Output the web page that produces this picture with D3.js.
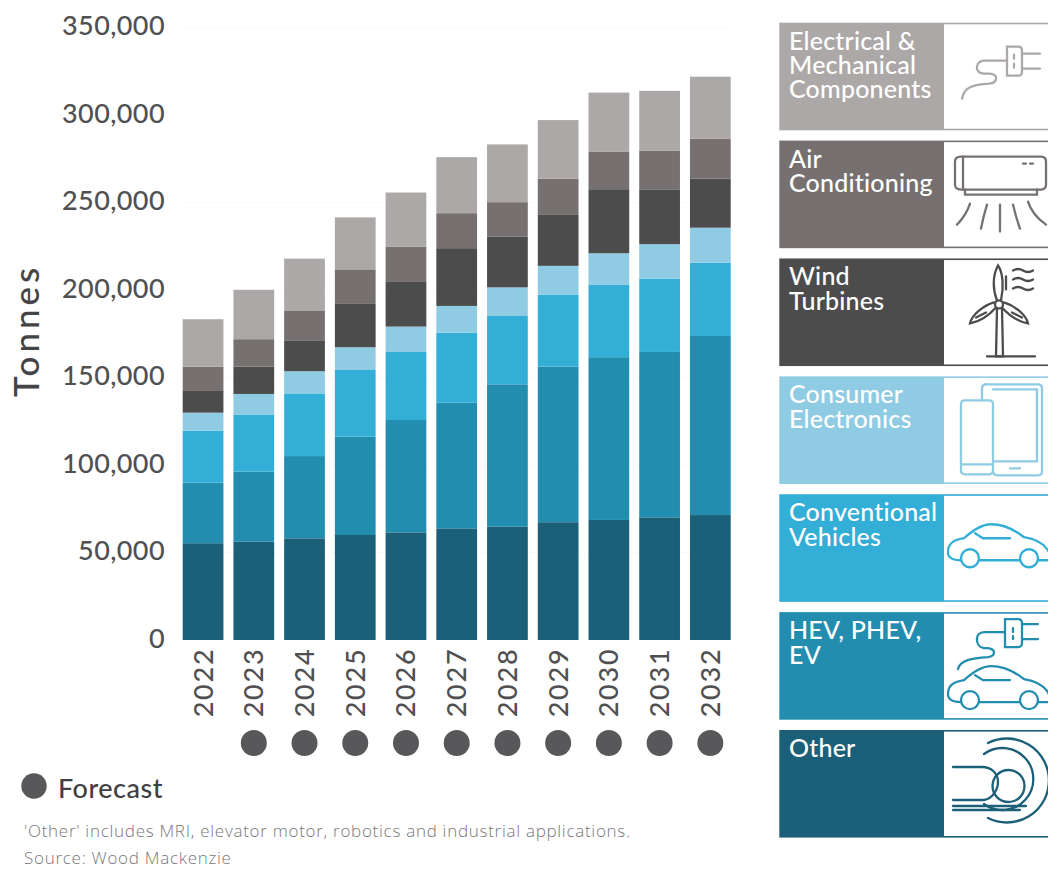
<!DOCTYPE html>
<html lang="en">
<head>
<meta charset="utf-8">
<title>Rare earth demand by end use</title>
<script src="https://cdn.jsdelivr.net/npm/d3@7/dist/d3.min.js"></script>
<style>
  html, body { margin: 0; padding: 0; background: #fff; }
  svg { display: block; font-family: Lato, "Open Sans", sans-serif; }
</style>
</head>
<body>
<svg id="chart" width="1048" height="869"></svg>
<script>
// Annual demand in tonnes, bottom segment of the stack first.
const years = [2022, 2023, 2024, 2025, 2026, 2027, 2028, 2029, 2030, 2031, 2032];
const forecastYears = [2023, 2024, 2025, 2026, 2027, 2028, 2029, 2030, 2031, 2032];
const other = [55300, 56200, 58100, 60000, 61500, 63800, 64700, 67300, 68600, 70100, 71400];
const hybridElectric = [34600, 40000, 47000, 56200, 64200, 71800, 81400, 88900, 93000, 94500, 102300];
const conventional = [29700, 32400, 35800, 38100, 38900, 40000, 39400, 41000, 41300, 41900, 41900];
const consumerElectronics = [10300, 12000, 12700, 13000, 14500, 15300, 16000, 16600, 18100, 19700, 20000];
const windTurbines = [12400, 15600, 17300, 25100, 25500, 33000, 28900, 29100, 36600, 31000, 28000];
const airConditioning = [13900, 15700, 17100, 19400, 20200, 20000, 19800, 20700, 21300, 22500, 22900];
const electricalMechanical = [27100, 28200, 29900, 29700, 30900, 32000, 33000, 33500, 33900, 34100, 35400];

const seriesKeys = ["other", "hev", "conv", "cons", "wind", "ac", "em"];
const seriesColors = ["#1c5f78", "#228dae", "#33aed6", "#8fcbe3", "#4d4c4d", "#767170", "#ada8a8"];
const yTicks = [0, 50000, 100000, 150000, 200000, 250000, 300000, 350000];

// Legend tiles, listed from the top of the panel downwards.
const legendNames = [
  ["Electrical &", "Mechanical", "Components"],
  ["Air", "Conditioning"],
  ["Wind", "Turbines"],
  ["Consumer", "Electronics"],
  ["Conventional", "Vehicles"],
  ["HEV, PHEV,", "EV"],
  ["Other"]
];
const legendColors = ["#ada8a8", "#767170", "#4d4c4d", "#8fcbe3", "#33aed6", "#228dae", "#1c5f78"];

const footnote = "'Other' includes MRI, elevator motor, robotics and industrial applications.";
const source = "Source: Wood Mackenzie";

const svg = d3.select("#chart");
const axisColor = "#505052";

const table = years.map((year, i) => ({
  year,
  other: other[i],
  hev: hybridElectric[i],
  conv: conventional[i],
  cons: consumerElectronics[i],
  wind: windTurbines[i],
  ac: airConditioning[i],
  em: electricalMechanical[i]
}));

const x = d3.scaleBand().domain(years).range([182.7, 730.7]).paddingInner(0.197);
const y = d3.scaleLinear().domain([0, 350000]).range([640, 27.5]);

// Hairline guides sit behind the bars.
svg.append("g")
  .selectAll("line")
  .data(yTicks.slice(1))
  .join("line")
  .attr("x1", 183).attr("x2", 731)
  .attr("y1", d => y(d)).attr("y2", d => y(d))
  .attr("stroke", "#fafafa");

// Stacked bars.
const stacked = d3.stack().keys(seriesKeys)(table);
svg.append("g")
  .selectAll("g")
  .data(stacked)
  .join("g")
  .attr("fill", (d, i) => seriesColors[i])
  .selectAll("rect")
  .data(d => d)
  .join("rect")
  .attr("x", d => x(d.data.year))
  .attr("width", x.bandwidth())
  .attr("y", d => y(d[1]))
  .attr("height", d => y(d[0]) - y(d[1]));

// Value axis: labels only, no rule or tick marks.
const yAxis = svg.append("g")
  .attr("transform", "translate(165,-1.5)")
  .call(d3.axisLeft(y).tickValues(yTicks).tickFormat(d3.format(",")).tickSize(0).tickPadding(0));
yAxis.select(".domain").remove();
yAxis.selectAll("text")
  .attr("font-family", "Lato, sans-serif")
  .attr("font-size", 27)
  .attr("font-weight", 500)
  .attr("letter-spacing", 0.4)
  .attr("fill", axisColor);

// Year axis with rotated labels.
const xAxis = svg.append("g")
  .attr("transform", "translate(0,647.5)")
  .call(d3.axisBottom(x).tickSize(0).tickPadding(0));
xAxis.select(".domain").remove();
xAxis.selectAll("text")
  .attr("font-family", "Lato, sans-serif")
  .attr("font-size", 27)
  .attr("font-weight", 500)
  .attr("letter-spacing", 1.8)
  .attr("fill", axisColor)
  .attr("text-anchor", "end")
  .attr("dy", 0)
  .attr("x", 0).attr("y", 0)
  .attr("transform", "rotate(-90) translate(0,9.5)");

svg.append("text")
  .attr("transform", "translate(39,397) rotate(-90)")
  .attr("font-size", 35)
  .attr("font-weight", 500)
  .attr("letter-spacing", 4)
  .attr("fill", "#444446")
  .text("Tonnes");

// Forecast markers below the year labels.
svg.append("g")
  .selectAll("circle")
  .data(forecastYears)
  .join("circle")
  .attr("cx", d => x(d) + x.bandwidth() / 2)
  .attr("cy", 743)
  .attr("r", 13)
  .attr("fill", "#58585a");

svg.append("circle").attr("cx", 34).attr("cy", 786).attr("r", 12.7).attr("fill", "#58585a");
svg.append("text")
  .attr("x", 58).attr("y", 798)
  .attr("font-size", 27).attr("font-weight", 500)
  .attr("letter-spacing", 0.5)
  .attr("fill", "#404042")
  .text("Forecast");

svg.selectAll("text.note")
  .data([[footnote, 837], [source, 864]])
  .join("text")
  .attr("class", "note")
  .attr("x", 24).attr("y", d => d[1])
  .attr("font-family", "'Open Sans', sans-serif")
  .attr("font-size", 17).attr("font-weight", 300)
  .attr("letter-spacing", 0.72)
  .attr("fill", "#77777a")
  .text(d => d[0]);

// Line icons, one per tile, in the local coordinates of the white panel.
const carPath = "M17,66 C9,66 4,64 4,58 C4,50 8,46 20,44 C30,35 38,30 47,30 C60,30 70,35 80,43 C92,45 101,50 105,58 M35,66 H76 M94,66 H105 M31,39 L39,44 H66";
const carWheels = [[26, 64], [85, 64]];
const icons = [
  { paths: ["M63,24 H74 Q78,24 78,28 V49 Q78,53 74,53 H63 Z", "M78,31 H96 M78,46 H96", "M63,38 H40 C31,38 30,51 40,51 H45 C55,51 54,60 45,61 C30,62 20,64 18,76", "M70,32 V36 M70,41 V45"] },
  { paths: ["M17,16 H97 Q102,16 102,21 V44 Q102,49 97,49 H17 Q11,49 11,44 V21 Q11,16 17,16 Z", "M19,16 V49", "M21,49 V54 H93 V49", "M79,23 H82 M86,23 H89", "M26,63 Q22,75 13,84", "M43,64 Q39,77 37,88", "M56,64 V91", "M69,64 Q72,77 76,88", "M84,61 Q88,74 102,84"] },
  { paths: ["M53,50 L52,98 H59 L58,50", "M43,98 H91", "M53,42 C49,32 48,18 54,7 C59,14 60,28 57,42", "M52,49 C44,58 36,63 26,65 C28,56 40,47 50,44", "M58,49 C66,58 74,63 84,65 C82,56 70,47 60,44", "M42,54 L32,59 M68,54 L78,59", "M62,18 V31", "M69,12 Q74,9 79,12 T89,12 M69,21 Q74,18 79,21 T89,21 M69,30 Q74,27 79,30 T89,30"], circles: [[55, 46, 4]] },
  { paths: ["M41,8 H94 Q98,8 98,12 V95 Q98,99 94,99 H54 Q49,99 49,95", "M38,24 V12 Q38,8 42,8", "M49,13 H93 V85 H49", "M21,24 H45 Q49,24 49,28 V94 Q49,98 45,98 H21 Q17,98 17,94 V28 Q17,24 21,24 Z", "M17,88 H49", "M66,92 H76"] },
  { paths: [carPath], circles: carWheels.map(c => [c[0], c[1], 9]) },
  { paths: ["M61,7 H74 Q78,7 78,11 V31 Q78,35 74,35 H61 Z", "M78,12 H94 M78,27 H94", "M61,20 H40 C31,20 30,34 40,36 H44 C52,37 52,44 44,45 C28,46 16,48 14,57", "M69,16 V20 M69,24 V27", { d: carPath, dy: 24 }], circles: carWheels.map(c => [c[0], c[1] + 24, 9]) },
  { paths: ["M44,13 A42,42 0 1 1 44,88", "M40,24 A31,31 0 1 1 40,74", "M9,37 H38 C48,37 54,44 54,52 C54,60 48,69 40,70 H9", "M9,76 H82", "M9,80 H76"], circles: [[64.5, 56, 16]] }
];

const tileTop = d3.scaleLinear().domain([0, 6]).range([22.7, 730]);
const tileHeight = 107.6;
const tileLeft = 779.3;
const tileSplit = 944;
const tileRight = 1048;

svg.append("defs").append("clipPath").attr("id", "panelClip")
  .append("rect").attr("width", tileRight - tileSplit).attr("height", tileHeight);

const tiles = svg.append("g")
  .selectAll("g")
  .data(legendNames)
  .join("g")
  .attr("transform", (d, i) => `translate(0,${tileTop(i)})`);

tiles.append("rect")
  .attr("x", tileLeft).attr("width", tileSplit - tileLeft)
  .attr("height", tileHeight)
  .attr("fill", (d, i) => legendColors[i]);

tiles.append("rect")
  .attr("x", tileSplit).attr("y", 0).attr("width", tileRight - tileSplit).attr("height", 1.6)
  .attr("fill", (d, i) => legendColors[i]);
tiles.append("rect")
  .attr("x", tileSplit).attr("y", tileHeight - 1.6).attr("width", tileRight - tileSplit).attr("height", 1.6)
  .attr("fill", (d, i) => legendColors[i]);

tiles.each(function (names, i) {
  const tile = d3.select(this);
  tile.selectAll("text.name")
    .data(names)
    .join("text")
    .attr("class", "name")
    .attr("x", 789)
    .attr("y", (d, k) => 27 + k * 24.4)
    .attr("font-size", 25)
    .attr("font-weight", 500)
    .attr("letter-spacing", 0.2)
    .attr("fill", "#fff")
    .text(d => d);

  const panel = tile.append("g")
    .attr("transform", `translate(${tileSplit},0)`)
    .attr("clip-path", "url(#panelClip)")
    .attr("fill", "none")
    .attr("stroke", legendColors[i])
    .attr("stroke-width", 2.3)
    .attr("stroke-linecap", "round");

  icons[i].paths.forEach(p => {
    const isShifted = typeof p !== "string";
    panel.append("path")
      .attr("d", isShifted ? p.d : p)
      .attr("transform", isShifted ? `translate(0,${p.dy})` : null);
  });
  (icons[i].circles || []).forEach(c => {
    panel.append("circle").attr("cx", c[0]).attr("cy", c[1]).attr("r", c[2]);
  });
});
</script>
</body>
</html>
